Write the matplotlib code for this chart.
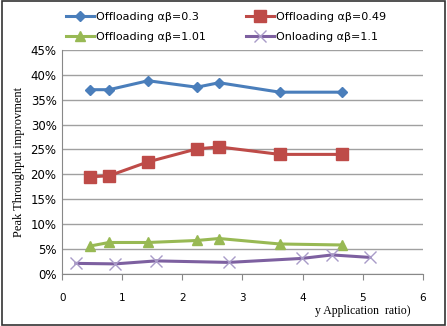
import matplotlib
matplotlib.use("Agg")
import matplotlib.pyplot as plt
from matplotlib.ticker import PercentFormatter

# values (x = application ratio, y = improvement in %)
x_main = [0.47, 0.78, 1.43, 2.24, 2.61, 3.62, 4.65]
off_03 = [37.0, 37.0, 38.8, 37.5, 38.4, 36.5, 36.5]
off_049 = [19.5, 19.7, 22.5, 25.1, 25.5, 24.0, 24.0]
off_101 = [5.6, 6.3, 6.3, 6.7, 7.1, 6.0, 5.8]
x_on = [0.23, 0.88, 1.56, 2.77, 3.99, 4.49, 5.12]
on_11 = [2.1, 2.0, 2.6, 2.3, 3.1, 3.8, 3.3]

labels = ["Offloading αβ=0.3", "Offloading αβ=0.49",
          "Offloading αβ=1.01", "Onloading αβ=1.1"]
colors = ["#4a7ebb", "#be4b48", "#98b954", "#7d60a0"]

fig = plt.figure(figsize=(4.47, 3.26), dpi=100)
ax = fig.add_axes([0.139, 0.160, 0.807, 0.687])

l1, = ax.plot(x_main, off_03, color=colors[0], lw=2.2, marker="D", ms=5)
l2, = ax.plot(x_main, off_049, color=colors[1], lw=2.2, marker="s", ms=8)
l3, = ax.plot(x_main, off_101, color=colors[2], lw=2.2, marker="^", ms=7)
l4, = ax.plot(x_on, on_11, color=colors[3], lw=2.2, marker="x", ms=8, mew=1,
              mec="#a99bc8")

ax.set_xlim(0, 6)
ax.set_ylim(0, 45)
ax.set_xticks(range(7))
ax.set_yticks(range(0, 46, 5))
ax.yaxis.set_major_formatter(PercentFormatter(decimals=0))
ax.grid(axis="y", color="#a0a0a0", lw=1)
ax.set_axisbelow(True)
for s in ["top", "right"]:
    ax.spines[s].set_visible(False)
ax.spines["left"].set_color("#888888")
ax.spines["bottom"].set_color("#888888")
ax.tick_params(axis="y", length=0, labelsize=8.5, pad=4)
ax.tick_params(axis="x", length=4, color="#888888", labelsize=7.5, pad=10)

ax.set_ylabel("Peak Throughput improvment", family="Liberation Serif", fontsize=9)
ax.text(5.8, -7.5, "y Application  ratio)", family="Liberation Serif",
        fontsize=8.5, ha="right", va="center")

# column-major fill: order so rows read 0.3 | 0.49, 1.01 | 1.1
fig.legend([l1, l3, l2, l4], [labels[0], labels[2], labels[1], labels[3]],
           loc="upper left", bbox_to_anchor=(0.125, 0.995), ncol=2, frameon=False,
           fontsize=8, handlelength=2.5, columnspacing=3.6, labelspacing=0.9,
           handletextpad=0.2)

fig.patches.append(plt.Rectangle((0.004, 0.004), 0.992, 0.992, transform=fig.transFigure,
                                 fill=False, edgecolor="#333333", lw=1.2))

fig.savefig("out.png", dpi=100)
